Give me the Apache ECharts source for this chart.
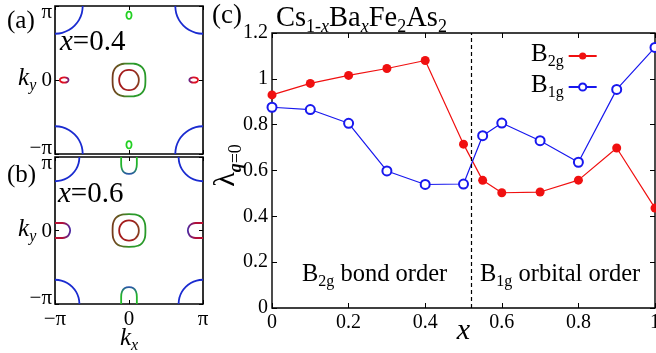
<!DOCTYPE html>
<html><head><meta charset="utf-8">
<script src="https://cdn.jsdelivr.net/npm/echarts@6.0.0/dist/echarts.min.js"></script>
<style>html,body{margin:0;padding:0;background:#fff;}#chart{width:656px;height:353px;}</style>
</head><body><div id="chart"></div>
<script>
// ---------- panel (c) data ----------
const xValues   = [0, 0.1, 0.2, 0.3, 0.4, 0.5, 0.55, 0.6, 0.7, 0.8, 0.9, 1.0];
const lambdaB2g = [0.93, 0.98, 1.015, 1.045, 1.08, 0.715, 0.557, 0.503, 0.506, 0.558, 0.698, 0.436];
const lambdaB1g = [0.876, 0.866, 0.806, 0.598, 0.539, 0.541, 0.752, 0.807, 0.730, 0.636, 0.954, 1.137];
const phaseBoundaryX = 0.524;
const cXTickLabels = ['0', '0.2', '0.4', '0.6', '0.8', '1'];
const cYTickLabels = ['0', '0.2', '0.4', '0.6', '0.8', '1', '1.2'];
const kTickLabels  = ['−π', '0', 'π'];

// ---------- panels (a),(b): Fermi-surface contours, in units of π ----------
const cornerArcA = [[0.625,1],[0.638,0.903],[0.675,0.8125],[0.735,0.735],[0.8125,0.675],[0.903,0.638],[1,0.625]];
const cornerArcB = [[0.67,1],[0.681,0.915],[0.714,0.835],[0.767,0.767],[0.835,0.714],[0.915,0.681],[1,0.67]];
const gammaOuter = [[0.222,0],[0.22,0.059],[0.208,0.119],[0.174,0.174],[0.119,0.208],[0.059,0.22],[0,0.222]];
const gammaInner = [[0.133,0],[0.124,0.052],[0.096,0.097],[0.053,0.128],[0,0.138]];
const xPocketA = [[0.06,0],[0.042,0.025],[0,0.035]];
const xPocketCenterA = 0.875;
const yPocketA = [[0.035,0],[0.025,0.036],[0,0.05]];
const yPocketCenterA = 0.875;
const xPocketB = [[0,0.102],[0.1,0.102],[0.15,0.09],[0.185,0.06],[0.205,0]];
const yPocketB = [[0.106,0],[0.106,0.1],[0.094,0.17],[0.06,0.215],[0,0.23]];

const S = "'Liberation Serif', 'Times New Roman', serif";
const BLUE_FS = '#1a2bd0';

function mirrorLoop(q, cx, cy) {
  const out = [];
  q.forEach(p => out.push([cx + p[0], cy + p[1]]));
  q.slice(0, -1).reverse().forEach(p => out.push([cx - p[0], cy + p[1]]));
  q.slice(1).forEach(p => out.push([cx - p[0], cy - p[1]]));
  q.slice(0, -1).reverse().forEach(p => out.push([cx + p[0], cy - p[1]]));
  return out;
}
function grad(x2, y2, stops) {
  return {type:'linear', x:0, y:0, x2:x2, y2:y2, colorStops: stops.map(s => ({offset:s[0], color:s[1]}))};
}
const series = [];
function contour(gi, data, color, smooth) {
  series.push({type:'line', xAxisIndex: gi*2, yAxisIndex: gi*2, data: data, symbol:'none', showSymbol:false,
    smooth: smooth == null ? 0.4 : smooth, silent: true, animation:false, lineStyle:{width:1.8, color: color}, z:3});
}
const outerGrad = grad(1, 0, [[0,'#7d2f1c'],[0.3,'#5a6a22'],[0.55,'#2a9a2a'],[1,'#2a9a2a']]);
const innerGrad = grad(1, 0, [[0,'#a31a1a'],[0.65,'#a31e1e'],[1,'#7a4e20']]);
const corners = [[1,1],[-1,1],[-1,-1],[1,-1]];

[0, 1].forEach(gi => {
  const arc = gi === 0 ? cornerArcA : cornerArcB;
  corners.forEach(c => contour(gi, arc.map(p => [c[0]*p[0], c[1]*p[1]]), BLUE_FS));
  contour(gi, mirrorLoop(gammaOuter, 0, 0), outerGrad, 0.5);
  contour(gi, mirrorLoop(gammaInner, 0, 0), innerGrad, 0.5);
});
contour(0, mirrorLoop(xPocketA, -xPocketCenterA, 0), grad(1,0,[[0,'#e8101a'],[0.55,'#d81028'],[1,'#2a2ab8']]));
contour(0, mirrorLoop(xPocketA,  xPocketCenterA, 0), grad(1,0,[[0,'#2a2ab8'],[0.45,'#d81028'],[1,'#e8101a']]));
contour(0, mirrorLoop(yPocketA, 0,  yPocketCenterA), '#22d022');
contour(0, mirrorLoop(yPocketA, 0, -yPocketCenterA), '#22d022');
function edgeX(sign) {
  return xPocketB.map(p => [sign*(1 - p[0]), p[1]]).concat(xPocketB.slice(0,-1).reverse().map(p => [sign*(1 - p[0]), -p[1]]));
}
function edgeY(sign) {
  return yPocketB.map(p => [p[0], sign*(1 - p[1])]).concat(yPocketB.slice(0,-1).reverse().map(p => [-p[0], sign*(1 - p[1])]));
}
contour(1, edgeX(-1), grad(1,0,[[0,'#c01030'],[0.5,'#b0103a'],[1,'#3030c0']]));
contour(1, edgeX(1),  grad(1,0,[[0,'#3030c0'],[0.5,'#b0103a'],[1,'#c01030']]));
contour(1, edgeY(1),  grad(0,1,[[0,'#22c022'],[0.55,'#22b030'],[1,'#2a3acc']]));
contour(1, edgeY(-1), grad(0,1,[[0,'#2a3acc'],[0.45,'#22b030'],[1,'#22c022']]));

series.push({
  name:'B2g', type:'line', xAxisIndex:4, yAxisIndex:4,
  data: xValues.map((x,i) => [x, lambdaB2g[i]]),
  symbol:'circle', symbolSize:9, lineStyle:{width:1.2, color:'#f01010'}, itemStyle:{color:'#f01010'}, z:4,
  markLine:{silent:true, symbol:'none', label:{show:false},
    lineStyle:{type:[4,3], color:'#000', width:1.2}, data:[{xAxis: phaseBoundaryX}]}
});
series.push({
  name:'B1g', type:'line', xAxisIndex:4, yAxisIndex:4,
  data: xValues.map((x,i) => [x, lambdaB1g[i]]),
  symbol:'emptyCircle', symbolSize:9, lineStyle:{width:1.2, color:'#1818ee'},
  itemStyle:{color:'#1818ee', borderWidth:1.4}, z:4
});

const tickIn = len => ({show:true, inside:true, length:len, lineStyle:{color:'#000', width:1}});
const noLine = {show:false, onZero:false};
const noSplit = {show:false};
const subRich = {
  k:{fontFamily:S, fontSize:25, fontStyle:'italic', color:'#000', verticalAlign:'bottom', padding:[0,0,3,0]},
  s:{fontFamily:S, fontSize:16, fontStyle:'italic', color:'#000', verticalAlign:'bottom'}
};
const kYLabel = {
  show:true, margin:3, fontFamily:S, fontSize:20, color:'#000', showMinLabel:true, showMaxLabel:true,
  formatter: v => v > 0.5 ? '{t|' + kTickLabels[2] + '}' : (v < -0.5 ? '{bt|' + kTickLabels[0] + '}' : '{k|k}{s|y}{z| ' + kTickLabels[1] + '}'),
  rich: {
    t:{fontFamily:S, fontSize:21, color:'#000', padding:[12,0,0,0]},
    bt:{fontFamily:S, fontSize:21, color:'#000', padding:[0,0,11,0]},
    k:{fontFamily:S, fontSize:25, fontStyle:'italic', color:'#000', verticalAlign:'bottom', padding:[0,0,3,0]},
    s:{fontFamily:S, fontSize:16, fontStyle:'italic', color:'#000', verticalAlign:'bottom'},
    z:{fontFamily:S, fontSize:21, color:'#000', verticalAlign:'bottom', padding:[0,0,3,0]}
  }
};
function kx(gi, pos, label, extra) {
  return Object.assign({gridIndex:gi, type:'value', min:-1, max:1, interval:1, position:pos,
    axisLine:noLine, splitLine:noSplit, axisTick:tickIn(4), axisLabel: label || {show:false}}, extra || {});
}
const annotRich = {
  n:{fontFamily:S, fontSize:24.5, color:'#000', verticalAlign:'bottom', padding:[0,0,3,0]},
  s:{fontFamily:S, fontSize:16, color:'#000', verticalAlign:'bottom'}
};

const option = {
  animation:false,
  backgroundColor:'#fff',
  grid:[
    {left:55, top:6, width:148, height:148, show:true, borderColor:'#000', borderWidth:1.6, backgroundColor:'transparent', outerBoundsMode:'none'},
    {left:55, top:157, width:148, height:147, show:true, borderColor:'#000', borderWidth:1.6, backgroundColor:'transparent', outerBoundsMode:'none'},
    {left:272, top:33, right:1, bottom:45, show:true, borderColor:'#000', borderWidth:1.4, backgroundColor:'transparent', outerBoundsMode:'none'}
  ],
  xAxis:[
    kx(0,'bottom'), kx(0,'top'),
    kx(1,'bottom', {show:true, margin:5, fontFamily:S, fontSize:21, color:'#000', showMinLabel:true, showMaxLabel:true,
        formatter: v => kTickLabels[Math.round(v) + 1]},
       {name:'{k|k}{s|x}', nameLocation:'middle', nameGap:22, nameMoveOverlap:false, nameTextStyle:{rich:subRich}}),
    kx(1,'top'),
    {gridIndex:2, type:'value', min:0, max:1, interval:0.2, position:'bottom', axisLine:noLine, splitLine:noSplit,
     axisTick:tickIn(5),
     axisLabel:{show:true, margin:5, fontFamily:S, fontSize:20, color:'#000', showMinLabel:true, showMaxLabel:true,
       formatter: v => cXTickLabels[Math.round(v/0.2)]},
     name:'x', nameLocation:'middle', nameGap:8, nameMoveOverlap:false,
     nameTextStyle:{fontFamily:S, fontSize:30, fontStyle:'italic', color:'#000'}},
    {gridIndex:2, type:'value', min:0, max:1, interval:0.2, position:'top', axisLine:noLine, splitLine:noSplit,
     axisTick:tickIn(5), axisLabel:{show:false}}
  ],
  yAxis:[
    kx(0,'left', kYLabel), kx(0,'right'),
    kx(1,'left', kYLabel), kx(1,'right'),
    {gridIndex:2, type:'value', min:0, max:1.2, interval:0.2, position:'left', axisLine:noLine, splitLine:noSplit,
     axisTick:tickIn(5),
     axisLabel:{show:true, margin:4, fontFamily:S, fontSize:20, color:'#000', showMinLabel:true, showMaxLabel:true,
       formatter: v => cYTickLabels[Math.round(v/0.2)]},
     name:'{l|λ}{q|q}{s|=0}', nameLocation:'middle', nameGap:27, nameRotate:90, nameMoveOverlap:false,
     nameTextStyle:{padding:[0,0,0,10], rich:{
       l:{fontFamily:S, fontSize:30, color:'#000', verticalAlign:'bottom', padding:[0,0,4,0]},
       q:{fontFamily:S, fontSize:18, fontStyle:'italic', fontWeight:'bold', color:'#000', verticalAlign:'bottom'},
       s:{fontFamily:S, fontSize:18, color:'#000', verticalAlign:'bottom'}}}},
    {gridIndex:2, type:'value', min:0, max:1.2, interval:0.2, position:'right', axisLine:noLine, splitLine:noSplit,
     axisTick:tickIn(5), axisLabel:{show:false}}
  ],
  legend:{
    orient:'vertical', left:526, top:37, align:'right', itemGap:3, itemWidth:28, itemHeight:9,
    data:['B2g','B1g'],
    formatter: n => n === 'B2g' ? '{b|B}{s|2g}' : '{b|B}{s|1g}',
    textStyle:{fontFamily:S, fontSize:25, color:'#000', rich:{
      b:{fontFamily:S, fontSize:25, color:'#000', verticalAlign:'bottom', padding:[0,0,3,0]},
      s:{fontFamily:S, fontSize:16, color:'#000', verticalAlign:'bottom'}}}
  },
  title:[
    {text:'(a)', left:7, top:9, padding:0, textStyle:{fontFamily:S, fontSize:25, fontWeight:'normal', color:'#000'}},
    {text:'{i|x}{n|=0.4}', left:60, top:28, padding:0, textStyle:{fontFamily:S, fontSize:29, fontWeight:'normal', color:'#000',
      rich:{i:{fontFamily:S, fontSize:29, fontStyle:'italic', color:'#000'}, n:{fontFamily:S, fontSize:29, color:'#000'}}}},
    {text:'(b)', left:7, top:163, padding:0, textStyle:{fontFamily:S, fontSize:25, fontWeight:'normal', color:'#000'}},
    {text:'{i|x}{n|=0.6}', left:58, top:180, padding:0, textStyle:{fontFamily:S, fontSize:29, fontWeight:'normal', color:'#000',
      rich:{i:{fontFamily:S, fontSize:29, fontStyle:'italic', color:'#000'}, n:{fontFamily:S, fontSize:29, color:'#000'}}}},
    {text:'(c)', left:212, top:2, padding:0, textStyle:{fontFamily:S, fontSize:27, fontWeight:'normal', color:'#000'}},
    {text:'{n|Cs}{s|1-}{si|x}{n|Ba}{si|x}{n|Fe}{s|2}{n|As}{s|2}', left:276, top:4, padding:0,
      textStyle:{fontFamily:S, fontSize:28, fontWeight:'normal', color:'#000', rich:{
        n:{fontFamily:S, fontSize:28.5, color:'#000', verticalAlign:'bottom', padding:[0,0,3,0]},
        s:{fontFamily:S, fontSize:18, color:'#000', verticalAlign:'bottom'},
        si:{fontFamily:S, fontSize:18, fontStyle:'italic', color:'#000', verticalAlign:'bottom'}}}},
    {text:'{n|B}{s|2g}{n| bond order}', left:302, top:262, padding:0,
      textStyle:{fontFamily:S, fontSize:24.5, fontWeight:'normal', color:'#000', rich:annotRich}},
    {text:'{n|B}{s|1g}{n| orbital order}', left:480, top:262, padding:0,
      textStyle:{fontFamily:S, fontSize:24.5, fontWeight:'normal', color:'#000', rich:annotRich}}
  ],
  series: series
};
const chart = echarts.init(document.getElementById('chart'), null, {renderer:'canvas'});
chart.setOption(option);
</script></body></html>
